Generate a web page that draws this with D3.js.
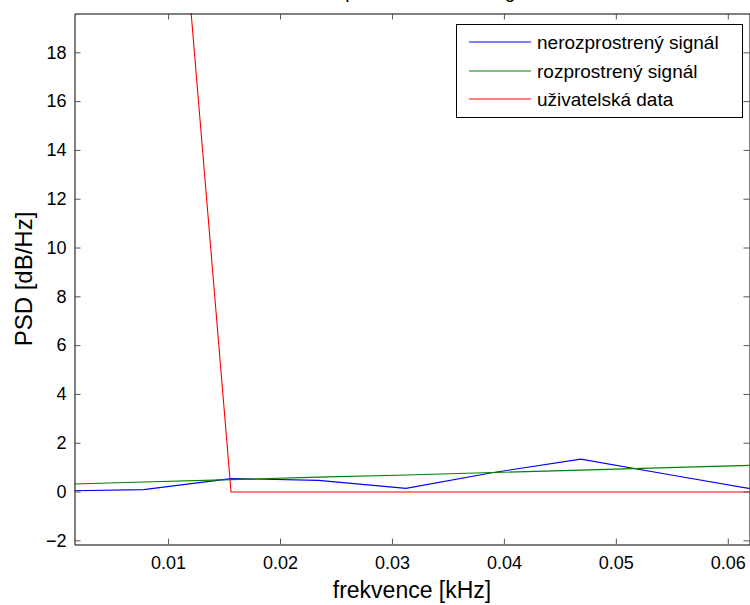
<!DOCTYPE html>
<html>
<head>
<meta charset="utf-8">
<script src="https://cdn.jsdelivr.net/npm/d3@7"></script>
<style>
  html, body { margin: 0; padding: 0; background: #fff; }
  svg { display: block; font-family: "Liberation Sans", Arial, sans-serif; }
</style>
</head>
<body>
<svg id="chart" width="750" height="605"></svg>
<script>
// ---- data ----
const freq = [0, 0.0078125, 0.015625, 0.0234375, 0.03125, 0.0390625, 0.046875, 0.0546875, 0.0625];
const blueVals  = [0.04, 0.10, 0.55, 0.48, 0.15, 0.80, 1.35, 0.72, 0.10];
const greenVals = [0.31, 0.41, 0.51, 0.61, 0.70, 0.80, 0.90, 1.00, 1.10];
const redVals   = [45.0, 43.0, 0.0, 0.0, 0.0, 0.0, 0.0, 0.0, 0.0];
const seriesNames = ["nerozprostrený signál", "rozprostrený signál", "uživatelská data"];
const seriesColors = ["#0000ff", "#008000", "#ff0000"];
const xTicks = [0.01, 0.02, 0.03, 0.04, 0.05, 0.06];
const yTicks = [-2, 0, 2, 4, 6, 8, 10, 12, 14, 16, 18];
const xDomain = [0.00164, 0.06194];
const yDomain = [-2.17, 19.59];
const titleText = "Spektrální hustota signálu";
const xLabel = "frekvence [kHz]";
const yLabel = "PSD [dB/Hz]";

// ---- layout ----
const L = 74.5, R = 749.5, T = 13.5, B = 544.5;
const svg = d3.select("#chart");
const x = d3.scaleLinear().domain(xDomain).range([L, R]);
const y = d3.scaleLinear().domain(yDomain).range([B, T]);

svg.append("defs").append("clipPath").attr("id", "clip")
  .append("rect").attr("x", L).attr("y", T - 0.5).attr("width", R - L).attr("height", B - T);

// title (cut off at top, as in the reference)
svg.append("text").attr("x", 442).attr("y", -2).attr("text-anchor", "middle")
  .attr("font-size", 19).attr("fill", "#000").text(titleText);

// series
const series = [blueVals, greenVals, redVals];
const line = d3.line().x((d, i) => x(freq[i])).y(d => y(d));
const g = svg.append("g").attr("clip-path", "url(#clip)")
  .append("g").attr("transform", "translate(0,0.5)");
series.forEach((vals, k) => {
  g.append("path").datum(vals).attr("d", line)
    .attr("fill", "none").attr("stroke", seriesColors[k]).attr("stroke-width", 1.1);
});

// axes
const tickLen = 6;
const axB = svg.append("g").attr("transform", `translate(0,${B})`)
  .call(d3.axisBottom(x).tickValues(xTicks).tickFormat(d3.format(".2f")).tickSizeInner(-tickLen).tickSizeOuter(0).tickPadding(12));
const axT = svg.append("g").attr("transform", `translate(0,${T})`)
  .call(d3.axisTop(x).tickValues(xTicks).tickFormat("").tickSizeInner(-tickLen).tickSizeOuter(0));
const axL = svg.append("g").attr("transform", `translate(${L},0)`)
  .call(d3.axisLeft(y).tickValues(yTicks).tickFormat(d3.format("d")).tickSizeInner(-tickLen).tickSizeOuter(0).tickPadding(8));
const axR = svg.append("g").attr("transform", `translate(${R},0)`)
  .call(d3.axisRight(y).tickValues(yTicks).tickFormat("").tickSizeInner(-tickLen).tickSizeOuter(0));
[axB, axT, axL, axR].forEach(a => {
  a.select(".domain").attr("stroke", "#000");
  a.selectAll(".tick line").attr("stroke", "#555");
  a.selectAll("text").attr("font-size", 18).attr("fill", "#000")
    .attr("font-family", "'Liberation Sans', Arial, sans-serif");
});
axB.selectAll("text").attr("dy", "0.71em");

// axis labels
svg.append("text").attr("x", (L + R) / 2).attr("y", 598).attr("text-anchor", "middle")
  .attr("font-size", 23).attr("fill", "#000").text(xLabel);
svg.append("text").attr("transform", `translate(32,${(T + B) / 2}) rotate(-90)`)
  .attr("text-anchor", "middle").attr("font-size", 24).attr("fill", "#000").text(yLabel);

// legend
const lg = svg.append("g");
lg.append("rect").attr("x", 456.5).attr("y", 24.5).attr("width", 286).attr("height", 93)
  .attr("fill", "#fff").attr("stroke", "#000").attr("stroke-width", 1);
const rowY = [42, 71, 99];
seriesNames.forEach((name, k) => {
  lg.append("line").attr("x1", 469).attr("x2", 531).attr("y1", rowY[k]).attr("y2", rowY[k])
    .attr("stroke", seriesColors[k]).attr("stroke-width", 1.1);
  lg.append("text").attr("x", 537).attr("y", rowY[k]).attr("dy", "0.35em")
    .attr("font-size", 19).attr("fill", "#000").text(name);
});
</script>
</body>
</html>
